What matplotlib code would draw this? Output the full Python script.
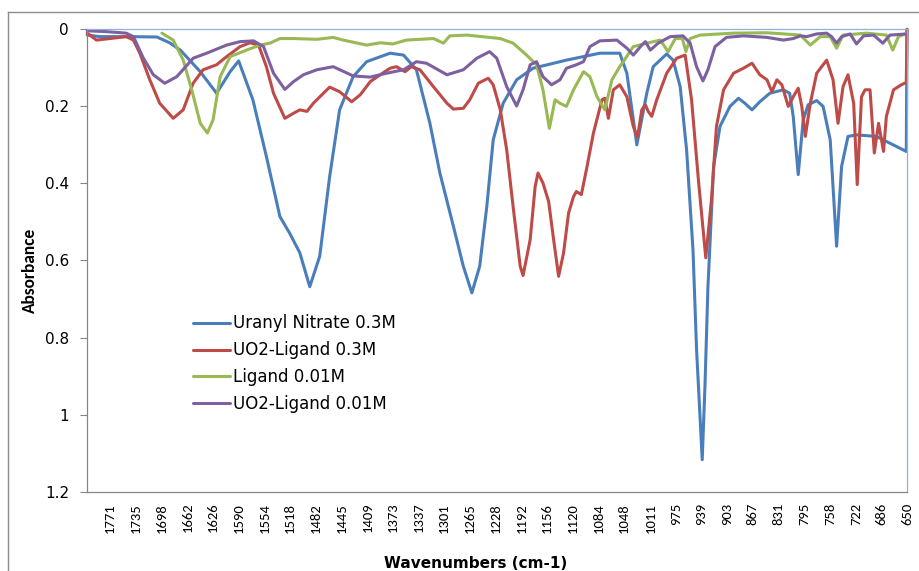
import matplotlib
matplotlib.use("Agg")
import matplotlib.pyplot as plt
from matplotlib.lines import Line2D

# wavenumbers (cm-1) and absorbance for each spectrum
uranyl_wn = [1803, 1785, 1743, 1705, 1687, 1672, 1644, 1621, 1602, 1590, 1570, 1551, 1532,
             1518, 1504, 1490, 1476, 1462, 1448, 1429, 1410, 1377, 1358, 1340, 1321, 1307,
             1288, 1274, 1262, 1251, 1241, 1232, 1218, 1199, 1176, 1129, 1082, 1054, 1044,
             1030, 1016, 1007, 988, 979, 969, 960, 951, 946, 938, 934, 930, 922, 913, 899,
             887, 878, 868, 857, 843, 824, 815, 810, 803, 796, 789, 777, 768, 758, 749, 742,
             733, 721, 693, 651, 650]
uranyl_abs = [0.015, 0.019, 0.019, 0.020, 0.035, 0.054, 0.110, 0.166, 0.110, 0.082, 0.183, 0.330,
              0.486, 0.530, 0.580, 0.668, 0.589, 0.382, 0.209, 0.123, 0.084, 0.062, 0.067,
              0.105, 0.244, 0.373, 0.511, 0.615, 0.684, 0.615, 0.460, 0.287, 0.192, 0.131,
              0.101, 0.080, 0.062, 0.062, 0.114, 0.300, 0.166, 0.097, 0.064, 0.080, 0.149,
              0.313, 0.572, 0.830, 1.117, 0.917, 0.670, 0.356, 0.252, 0.200, 0.179, 0.192,
              0.209, 0.188, 0.166, 0.157, 0.166, 0.226, 0.377, 0.235, 0.196, 0.185, 0.200,
              0.287, 0.563, 0.356, 0.278, 0.274, 0.278, 0.317, 0.0]

uo2_lig_wn = [1803, 1790, 1771, 1748, 1738, 1729, 1715, 1701, 1682, 1668, 1654, 1640, 1621,
              1607, 1588, 1574, 1562, 1551, 1541, 1525, 1513, 1504, 1494, 1485, 1462, 1448,
              1431, 1419, 1405, 1391, 1377, 1368, 1356, 1347, 1335, 1316, 1297, 1288, 1274,
              1265, 1253, 1239, 1232, 1222, 1213, 1204, 1194, 1190, 1180, 1173, 1169, 1162,
              1154, 1147, 1140, 1133, 1126, 1119, 1115, 1108, 1100, 1091, 1079, 1075, 1070,
              1063, 1054, 1044, 1035, 1029, 1023, 1018, 1014, 1009, 1002, 988, 974, 962, 953,
              943, 933, 925, 918, 908, 894, 880, 868, 857, 847, 840, 833, 826, 817, 810, 803,
              798, 793, 786, 777, 763, 754, 747, 740, 733, 725, 720, 714, 709, 702, 696, 690,
              683, 679, 669, 658, 651, 650]
uo2_lig_abs = [0.010, 0.028, 0.024, 0.019, 0.028, 0.062, 0.131, 0.192, 0.231, 0.209, 0.140,
               0.105, 0.092, 0.071, 0.045, 0.035, 0.041, 0.097, 0.166, 0.231, 0.218, 0.209,
               0.213, 0.192, 0.150, 0.162, 0.188, 0.170, 0.136, 0.118, 0.101, 0.097, 0.110,
               0.097, 0.105, 0.149, 0.192, 0.207, 0.205, 0.183, 0.140, 0.127, 0.144, 0.209,
               0.313, 0.460, 0.615, 0.639, 0.546, 0.408, 0.373, 0.399, 0.447, 0.546, 0.641,
               0.580, 0.477, 0.434, 0.421, 0.429, 0.356, 0.269, 0.183, 0.179, 0.231, 0.157,
               0.144, 0.175, 0.252, 0.280, 0.209, 0.196, 0.213, 0.226, 0.183, 0.114, 0.075,
               0.067, 0.183, 0.399, 0.593, 0.442, 0.252, 0.157, 0.114, 0.101, 0.088, 0.118,
               0.131, 0.162, 0.131, 0.144, 0.200, 0.175, 0.153, 0.200, 0.278, 0.192, 0.114,
               0.080, 0.131, 0.244, 0.149, 0.118, 0.192, 0.403, 0.175, 0.157, 0.157, 0.321,
               0.244, 0.317, 0.226, 0.157, 0.144, 0.138, 0.0]

ligand_wn = [1698, 1682, 1668, 1656, 1644, 1634, 1626, 1616, 1602, 1579, 1560, 1546, 1532,
             1513, 1480, 1457, 1443, 1410, 1391, 1373, 1354, 1316, 1302, 1293, 1269, 1222,
             1204, 1185, 1171, 1162, 1153, 1145, 1138, 1129, 1119, 1105, 1096, 1086, 1075,
             1065, 1054, 1049, 1035, 1016, 997, 986, 976, 966, 961, 955, 941, 894, 847, 800,
             786, 772, 758, 749, 740, 707, 679, 670, 662, 650]
ligand_abs = [0.010, 0.028, 0.080, 0.157, 0.244, 0.269, 0.235, 0.123, 0.071, 0.054, 0.041,
              0.036, 0.024, 0.024, 0.026, 0.021, 0.028, 0.041, 0.035, 0.038, 0.028, 0.024,
              0.036, 0.017, 0.015, 0.024, 0.036, 0.067, 0.092, 0.157, 0.257, 0.183, 0.192,
              0.200, 0.157, 0.110, 0.123, 0.175, 0.209, 0.131, 0.097, 0.084, 0.045, 0.036,
              0.028, 0.058, 0.024, 0.024, 0.058, 0.024, 0.015, 0.010, 0.009, 0.015, 0.041,
              0.019, 0.019, 0.049, 0.015, 0.010, 0.015, 0.054, 0.019, 0.010]

uo2_dil_wn = [1803, 1776, 1748, 1738, 1724, 1710, 1694, 1677, 1654, 1635, 1607, 1588, 1569,
              1555, 1541, 1525, 1513, 1499, 1480, 1457, 1429, 1405, 1382, 1358, 1340, 1326,
              1297, 1274, 1255, 1237, 1227, 1213, 1199, 1190, 1180, 1171, 1162, 1150, 1138,
              1129, 1115, 1105, 1096, 1082, 1058, 1044, 1035, 1023, 1018, 1011, 1000, 983,
              965, 955, 946, 937, 930, 920, 904, 880, 847, 824, 810, 800, 791, 777, 763, 756,
              749, 742, 730, 721, 711, 697, 684, 674, 650]
uo2_dil_abs = [0.004, 0.006, 0.010, 0.019, 0.075, 0.118, 0.140, 0.123, 0.075, 0.062, 0.041,
               0.032, 0.030, 0.045, 0.114, 0.156, 0.136, 0.118, 0.105, 0.097, 0.121, 0.124,
               0.114, 0.105, 0.084, 0.088, 0.118, 0.105, 0.075, 0.058, 0.075, 0.149, 0.199,
               0.157, 0.092, 0.084, 0.123, 0.144, 0.131, 0.101, 0.092, 0.084, 0.045, 0.030,
               0.028, 0.049, 0.067, 0.041, 0.032, 0.054, 0.036, 0.019, 0.017, 0.036, 0.097,
               0.134, 0.105, 0.045, 0.021, 0.017, 0.021, 0.028, 0.024, 0.017, 0.019, 0.012,
               0.010, 0.019, 0.036, 0.019, 0.012, 0.038, 0.017, 0.015, 0.036, 0.015, 0.012]

series = [
    ("Uranyl Nitrate 0.3M", uranyl_wn, uranyl_abs, "#4A7EBB"),
    ("UO2-Ligand 0.3M", uo2_lig_wn, uo2_lig_abs, "#BE4B48"),
    ("Ligand 0.01M", ligand_wn, ligand_abs, "#98B954"),
    ("UO2-Ligand 0.01M", uo2_dil_wn, uo2_dil_abs, "#7D60A0"),
]

xtick_vals = [1771, 1735, 1698, 1662, 1626, 1590, 1554, 1518, 1482, 1445, 1409, 1373, 1337,
              1301, 1265, 1228, 1192, 1156, 1120, 1084, 1048, 1011, 975, 939, 903, 867, 831,
              795, 758, 722, 686, 650]
ytick_vals = [0, 0.2, 0.4, 0.6, 0.8, 1, 1.2]
ytick_labels = ["0", "0.2", "0.4", "0.6", "0.8", "1", "1.2"]

# Carlito for the rotated texts, DejaVu Sans if it is missing
rot_font = ["Carlito", "DejaVu Sans"]

fig = plt.figure(figsize=(9.2, 5.71), dpi=100)
ax = fig.add_axes([87 / 920, 1 - 491.7 / 571, 820 / 920, 462.4 / 571])

for name, wn, ab, col in series:
    ax.plot(wn, ab, color=col, lw=2.2, label=name, clip_on=False,
            solid_joinstyle="round", solid_capstyle="round")

ax.set_xlim(1803.3, 650)
ax.set_ylim(1.2, 0)

ax.set_xticks(xtick_vals)
ax.set_xticklabels([str(v) for v in xtick_vals], rotation=90, fontsize=10.5, family=rot_font)
ax.tick_params(axis="x", length=0, pad=8)
ax.set_yticks(ytick_vals)
ax.set_yticklabels(ytick_labels, fontsize=11)
ax.tick_params(axis="y", length=5, width=0.8, color="#868686", pad=8)

for side in ("left", "bottom"):
    ax.spines[side].set_color("#868686")
    ax.spines[side].set_linewidth(0.9)
for side in ("top", "right"):
    ax.spines[side].set_color("#8EB0DA")
    ax.spines[side].set_linewidth(0.9)

fig.text(30 / 920, 1 - 270 / 571, "Absorbance", rotation=90, ha="center", va="center",
         fontsize=12.5, fontweight="bold", family=rot_font)
fig.text(476 / 920, 3 / 571, "Wavenumbers (cm-1)", ha="center", va="baseline",
         fontsize=11, fontweight="bold")

ax.legend(loc="upper left", bbox_to_anchor=(193 / 920, 1 - 314.5 / 571),
          bbox_transform=fig.transFigure, frameon=False, fontsize=12,
          borderpad=0, borderaxespad=0, handlelength=2.2, handletextpad=0.2,
          labelspacing=0.53)

# chart frame, running off the right and bottom of the image
fig.add_artist(Line2D([8 / 920, 1.0], [1 - 11.5 / 571] * 2, transform=fig.transFigure,
                      color="#8C8C8C", lw=1.0))
fig.add_artist(Line2D([8 / 920] * 2, [0.0, 1 - 11.5 / 571], transform=fig.transFigure,
                      color="#8C8C8C", lw=1.0))

fig.savefig("out.png", dpi=100)
